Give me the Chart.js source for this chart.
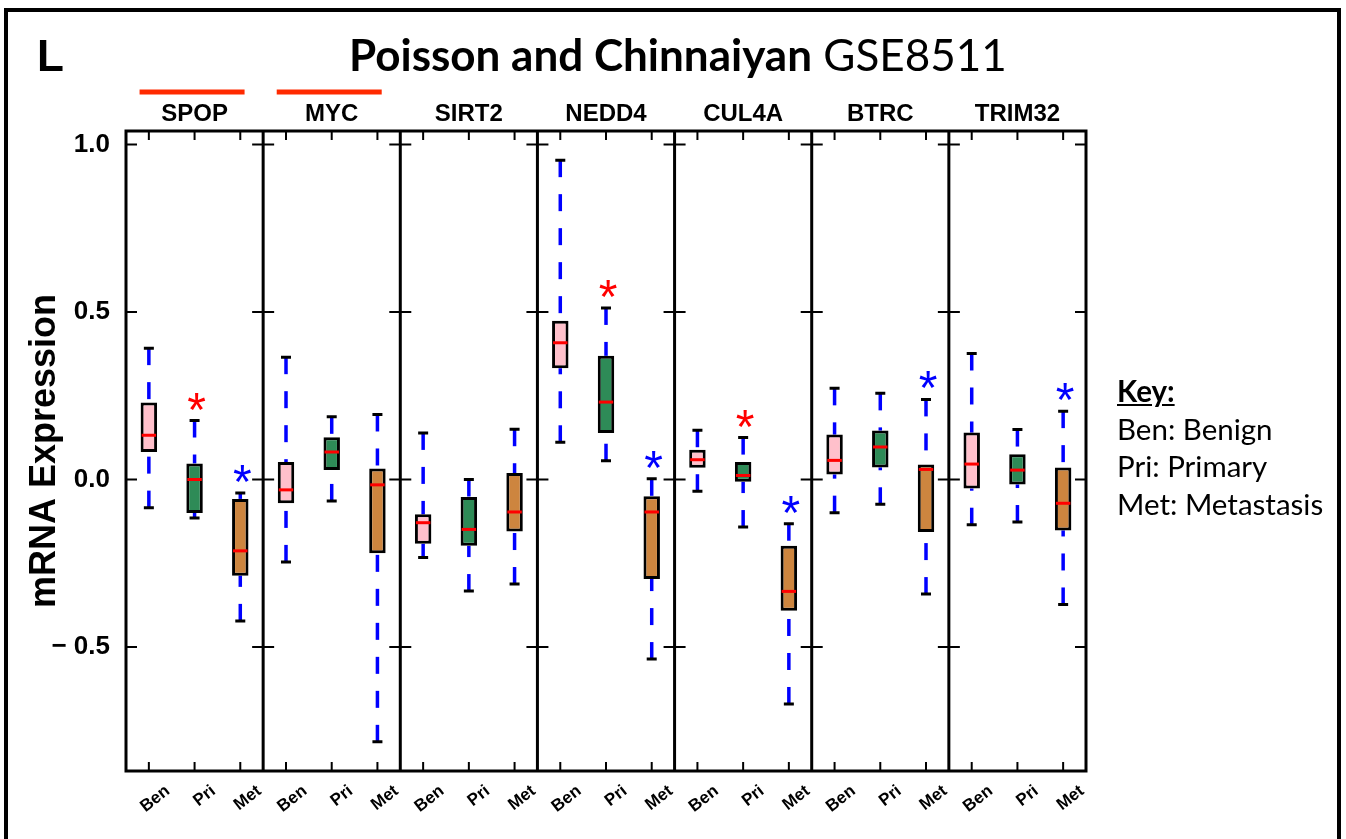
<!DOCTYPE html>
<html>
<head>
<meta charset="utf-8">
<title>Poisson and Chinnaiyan GSE8511</title>
<script src="https://cdn.jsdelivr.net/npm/chart.js@4.4.0/dist/chart.umd.min.js"></script>
<style>
  html, body { margin: 0; padding: 0; background: #fff; overflow: hidden; }
  #wrap { position: relative; width: 1346px; height: 839px; }
  #chartBox { position: absolute; left: 0; top: 0; width: 1346px; height: 839px; }
  #frame { position: absolute; left: 4px; top: 8px; width: 1337px; height: 900px; border: 4px solid #000; box-sizing: border-box; pointer-events: none; }
  #letter { position: absolute; left: 37px; top: 31px; font: bold 44px "Liberation Sans", Arial, sans-serif; line-height: 50px; }
  #title { position: absolute; left: 349px; top: 28px; font: 44px Lato, "Open Sans", sans-serif; line-height: 52px; white-space: nowrap; }
  #title b { font-weight: bold; }
  #key { position: absolute; left: 1117px; top: 372px; font: 29.5px Lato, "Open Sans", sans-serif; line-height: 37.5px; }
  #key u { font-weight: bold; }
</style>
</head>
<body>
<div id="wrap">
  <div id="chartBox"><canvas id="boxChart"></canvas></div>
  <div id="frame"></div>
  <div id="letter">L</div>
  <div id="title"><b>Poisson and Chinnaiyan</b> GSE8511</div>
  <div id="key"><u>Key:</u><br>Ben: Benign<br>Pri: Primary<br>Met: Metastasis</div>
</div>
<script>
// genes, one panel each, three sample groups per panel
const genes = ['SPOP', 'MYC', 'SIRT2', 'NEDD4', 'CUL4A', 'BTRC', 'TRIM32'];
const groups = ['Ben', 'Pri', 'Met'];
const markedGenes = ['SPOP', 'MYC'];
const yTicks = [-0.5, 0, 0.5, 1.0];

// box statistics, listed gene by gene as Ben, Pri, Met
const whiskerLow = [
  -0.084, -0.115, -0.422,
  -0.246, -0.064, -0.783,
  -0.233, -0.333, -0.312,
   0.111,  0.056, -0.536,
  -0.035, -0.142, -0.670,
  -0.099, -0.074, -0.342,
  -0.135, -0.127, -0.373
];
const q1 = [
   0.082, -0.100, -0.287,
  -0.071,  0.028, -0.220,
  -0.192, -0.198, -0.155,
   0.332,  0.139, -0.297,
   0.035, -0.007, -0.392,
   0.015,  0.036, -0.157,
  -0.027, -0.015, -0.152
];
const median = [
   0.132,  0.000, -0.213,
  -0.031,  0.082, -0.016,
  -0.129, -0.149, -0.097,
   0.408,  0.231, -0.097,
   0.059,  0.012, -0.334,
   0.057,  0.097,  0.030,
   0.046,  0.028, -0.071
];
const q3 = [
   0.230,  0.048, -0.058,
   0.052,  0.126,  0.033,
  -0.104, -0.052,  0.019,
   0.474,  0.369, -0.050,
   0.089,  0.052, -0.198,
   0.134,  0.146,  0.045,
   0.140,  0.075,  0.036
];
const whiskerHigh = [
   0.392,  0.176, -0.040,
   0.365,  0.187,  0.194,
   0.139,  0.000,  0.150,
   0.953,  0.512,  0.002,
   0.147,  0.125, -0.132,
   0.272,  0.257,  0.239,
   0.376,  0.149,  0.204
];
// significance stars (1 = starred)
const significant = [
  0, 1, 1,
  0, 0, 0,
  0, 0, 0,
  0, 1, 1,
  0, 1, 1,
  0, 0, 1,
  0, 0, 1
];

const boxFill = { Ben: '#ffc0cb', Pri: '#2e8b57', Met: '#cd853f' };
const starColor = { Pri: '#ff0000', Met: '#0000ff' };

const labels = genes.flatMap(() => groups);
const FONT = '"Liberation Sans", Arial, sans-serif';

// whiskers, caps, medians, stars and the panelled frame
const boxPlotPlugin = {
  id: 'boxPlot',
  beforeDatasetsDraw(chart) {
    const { ctx, scales: { x, y } } = chart;
    ctx.save();
    ctx.strokeStyle = '#0000ff';
    ctx.lineWidth = 3.5;
    ctx.setLineDash([17, 17]);
    labels.forEach((_, i) => {
      const px = x.getPixelForValue(i);
      ctx.beginPath();
      ctx.moveTo(px, y.getPixelForValue(whiskerHigh[i]));
      ctx.lineTo(px, y.getPixelForValue(q3[i]));
      ctx.stroke();
      ctx.beginPath();
      ctx.moveTo(px, y.getPixelForValue(whiskerLow[i]));
      ctx.lineTo(px, y.getPixelForValue(q1[i]));
      ctx.stroke();
    });
    ctx.restore();
  },
  afterDatasetsDraw(chart) {
    const { ctx, scales: { x, y } } = chart;
    const bars = chart.getDatasetMeta(0).data;
    ctx.save();
    labels.forEach((g, i) => {
      const px = x.getPixelForValue(i);
      const half = bars[i].width / 2;
      // caps
      ctx.strokeStyle = '#000';
      ctx.lineWidth = 3;
      ctx.beginPath();
      [whiskerHigh[i], whiskerLow[i]].forEach(v => {
        const py = y.getPixelForValue(v);
        ctx.moveTo(px - 5, py);
        ctx.lineTo(px + 5, py);
      });
      ctx.stroke();
      // median
      const my = y.getPixelForValue(median[i]);
      ctx.strokeStyle = '#ff0000';
      ctx.beginPath();
      ctx.moveTo(px - half + 1, my);
      ctx.lineTo(px + half - 1, my);
      ctx.stroke();
      // star above the upper whisker
      if (significant[i]) {
        ctx.fillStyle = starColor[g];
        ctx.font = '48px ' + FONT;
        ctx.textAlign = 'center';
        ctx.textBaseline = 'alphabetic';
        ctx.fillText('*', px + 2, y.getPixelForValue(whiskerHigh[i]) - 22 + 27);
      }
    });
    ctx.restore();
  },
  afterDraw(chart) {
    const { ctx, chartArea: { left, right, top, bottom }, scales: { x, y } } = chart;
    ctx.save();
    ctx.strokeStyle = '#000';
    ctx.lineWidth = 3;
    ctx.strokeRect(left, top, right - left, bottom - top);

    const edges = [left];
    for (let p = 1; p < genes.length; p++) {
      edges.push((x.getPixelForValue(p * 3 - 1) + x.getPixelForValue(p * 3)) / 2);
    }
    edges.push(right);

    ctx.beginPath();
    edges.slice(1, -1).forEach(ex => { ctx.moveTo(ex, top); ctx.lineTo(ex, bottom); });
    ctx.stroke();

    // y ticks on both sides of every panel edge
    ctx.lineWidth = 2;
    ctx.beginPath();
    yTicks.forEach(v => {
      const py = y.getPixelForValue(v);
      edges.forEach((ex, k) => {
        const a = k === 0 ? ex : ex - 11;
        const b = k === edges.length - 1 ? ex : ex + 11;
        ctx.moveTo(a, py); ctx.lineTo(b, py);
      });
    });
    // x ticks top and bottom
    labels.forEach((_, i) => {
      const px = x.getPixelForValue(i);
      ctx.moveTo(px, top); ctx.lineTo(px, top + 9);
      ctx.moveTo(px, bottom); ctx.lineTo(px, bottom - 9);
    });
    ctx.stroke();

    // gene names and red marks
    genes.forEach((gene, p) => {
      const cx = (x.getPixelForValue(p * 3) + x.getPixelForValue(p * 3 + 2)) / 2;
      ctx.fillStyle = '#000';
      ctx.font = 'bold 24px ' + FONT;
      ctx.textAlign = 'center';
      ctx.textBaseline = 'middle';
      ctx.fillText(gene, cx, top - 17);
      if (markedGenes.includes(gene)) {
        ctx.strokeStyle = '#ff2a00';
        ctx.lineWidth = 5;
        ctx.beginPath();
        ctx.moveTo(cx - 55, top - 39);
        ctx.lineTo(cx + 50, top - 39);
        ctx.stroke();
      }
    });
    ctx.restore();
  }
};

new Chart(document.getElementById('boxChart'), {
  type: 'bar',
  data: {
    labels: labels,
    datasets: [{
      data: q1.map((v, i) => [v, q3[i]]),
      backgroundColor: labels.map(g => boxFill[g]),
      borderColor: '#000',
      borderWidth: 3,
      borderSkipped: false,
      barPercentage: 0.36,
      categoryPercentage: 1
    }]
  },
  options: {
    responsive: true,
    maintainAspectRatio: false,
    animation: false,
    layout: { padding: { left: 0, top: 131, right: 260, bottom: 0 } },
    plugins: { legend: { display: false }, tooltip: { enabled: false } },
    scales: {
      x: {
        grid: { display: false },
        border: { display: false },
        afterFit: s => { s.height = 68; },
        ticks: {
          autoSkip: false,
          minRotation: 38,
          maxRotation: 38,
          padding: 2,
          labelOffset: 19,
          color: '#000',
          font: { family: FONT, size: 17, weight: 'bold' }
        }
      },
      y: {
        min: -0.87,
        max: 1.04,
        grid: { display: false },
        border: { display: false },
        afterFit: s => { s.width = 126; },
        afterBuildTicks: s => { s.ticks = yTicks.map(v => ({ value: v })); },
        ticks: {
          padding: 8,
          color: '#000',
          font: { family: FONT, size: 26, weight: 'bold' },
          callback: v => v < 0 ? '\u2212 ' + Math.abs(v).toFixed(1) : v.toFixed(1)
        },
        title: {
          display: true,
          text: 'mRNA Expression',
          color: '#000',
          padding: { top: 23, bottom: 0 },
          font: { family: FONT, size: 36, weight: 'bold' }
        }
      }
    }
  },
  plugins: [boxPlotPlugin]
});
</script>
</body>
</html>
